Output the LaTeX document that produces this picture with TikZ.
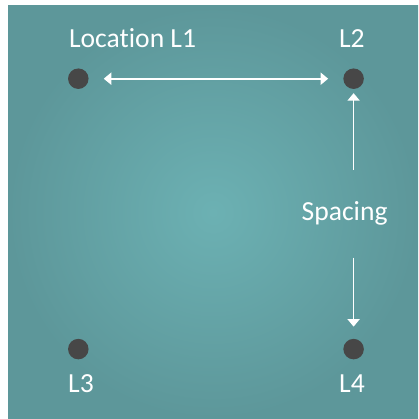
\documentclass[tikz,border=0pt]{standalone}
\usepackage{fontspec}
\setmainfont{Carlito}[Ligatures={NoCommon}]
\usetikzlibrary{arrows.meta}
\definecolor{tealC}{HTML}{6CB1B3}
\definecolor{tealE}{HTML}{5D979A}
\definecolor{dotC}{HTML}{474747}
\tikzset{
  dotnode/.style={circle, fill=dotC, minimum size=20.5pt, inner sep=0pt},
  lbl/.style={text=white, font=\fontsize{27.6}{32}\selectfont, anchor=base, inner sep=0pt},
  arr/.style={draw=white, line width=1.7pt, -{Triangle[length=7.5pt,width=12pt]}},
  darr/.style={draw=white, line width=1.7pt, {Triangle[length=7.5pt,width=12pt]}-{Triangle[length=7.5pt,width=12pt]}}
}
\begin{document}
\begin{tikzpicture}[x=1pt,y=-1pt]
\useasboundingbox (0,0) rectangle (418,419);
\fill[white] (0,0) rectangle (418,419);
\shade[inner color=tealC, outer color=tealE] (8,6) rectangle (418,419);
% dots
\node[dotnode] (d1) at (78.3,78.7) {};
\node[dotnode] (d2) at (353.6,78.7) {};
\node[dotnode] (d3) at (78.3,349.1) {};
\node[dotnode] (d4) at (353.6,349.1) {};
% labels
\node[lbl] (t1) at (132.6,47.7) {Location L1};
\node[lbl] (t2) at (351.8,47.7) {L2};
\node[lbl] (t3) at (81,392.7) {L3};
\node[lbl] (t4) at (352,392.7) {L4};
\node[lbl] (ts) at (344.6,220) {Spacing};
% arrows
\coordinate (up0) at (353.6,170);
\coordinate (dn0) at (353.6,257.7);
\draw[darr, shorten <=15pt, shorten >=15pt] (d1) -- (d2);
\draw[arr, shorten >=4pt] (up0) -- (d2);
\draw[arr, shorten >=12pt] (dn0) -- (d4);
\end{tikzpicture}
\end{document}
